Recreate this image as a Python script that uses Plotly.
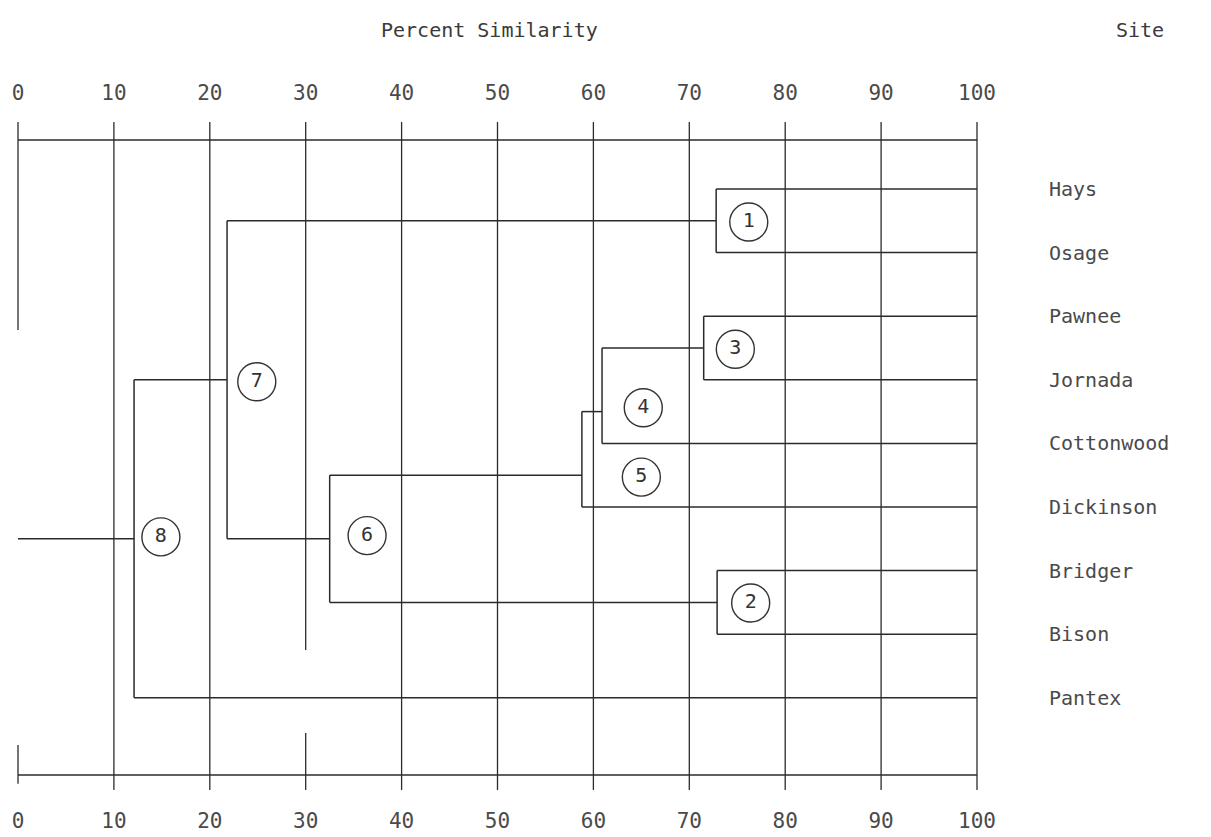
import plotly.graph_objects as go

# ---------------- data ----------------
sites = ["Hays", "Osage", "Pawnee", "Jornada", "Cottonwood",
         "Dickinson", "Bridger", "Bison", "Pantex"]

cluster_ids = [1, 2, 3, 4, 5, 6, 7, 8]
cluster_left = ["Hays", "Bridger", "Pawnee", "#3", "#4", "#5", "#1", "#7"]
cluster_right = ["Osage", "Bison", "Jornada", "Cottonwood", "Dickinson", "#2", "#6", "Pantex"]
cluster_similarity = [72.8, 72.9, 71.5, 60.9, 58.8, 32.5, 21.8, 12.1]
cluster_row = [0.5, 6.5, 2.5, 3.5, 4.5, 5.5, 3.0, 5.5]

tick_values = [0, 10, 20, 30, 40, 50, 60, 70, 80, 90, 100]
tick_labels = ["0", "10", "20", "30", "40", "50", "60", "70", "80", "90", "100"]

# ---------------- layout constants (page pixels) ----------------
OFF = 8  # default page body margin
W, H = 1211 - OFF, 837 - OFF
ROW_PX0, ROW_STEP = 189.0, 63.6
X_PX0, X_STEP = 18.0, 9.59
PAGE_L, PAGE_R, PAGE_T, PAGE_B = 8, 987, 122, 790
PLOT_L, PLOT_R, PLOT_T, PLOT_B = PAGE_L - OFF, PAGE_R - OFF, PAGE_T - OFF, PAGE_B - OFF


def px_to_row(p):
    return (p - ROW_PX0) / ROW_STEP


def px_to_x(p):
    return (p - X_PX0) / X_STEP


LINE = "#2b2b2b"
TEXT = "#4a4a4a"
FONT = "DejaVu Sans Mono"

# label offsets (layout) for circled cluster numbers
label_dx = [3.4, 3.5, 3.3, 4.3, 6.2, 3.9, 3.1, 2.8]
label_dy = [0.02, 0.01, 0.02, -0.06, 0.03, -0.05, 0.03, -0.03]


def node(name):
    if name in sites:
        return 100.0, float(sites.index(name))
    k = int(name[1:]) - 1
    return cluster_similarity[k], cluster_row[k]


fig = go.Figure()

# ---------------- grid / frame ----------------
y_top = px_to_row(PAGE_T)
y_bot = px_to_row(PAGE_B)
gx, gy = [], []
for v in tick_values:
    if v == 0:
        segs = [(y_top, px_to_row(330)), (px_to_row(745), y_bot - 0.1)]
    elif v == 30:
        segs = [(y_top, px_to_row(650)), (px_to_row(733), y_bot)]
    else:
        segs = [(y_top, y_bot)]
    for a, b in segs:
        gx += [v, v, None]
        gy += [a, b, None]
for r in (px_to_row(140), px_to_row(775)):
    gx += [tick_values[0], tick_values[-1], None]
    gy += [r, r, None]
fig.add_trace(go.Scatter(x=gx, y=gy, mode="lines",
                         line=dict(color=LINE, width=1.3),
                         hoverinfo="skip", showlegend=False))

# ---------------- dendrogram ----------------
dx, dy = [], []
for i in range(len(cluster_ids)):
    h = cluster_similarity[i]
    sL, rL = node(cluster_left[i])
    sR, rR = node(cluster_right[i])
    dx += [sL, h, None, sR, h, None, h, h, None]
    dy += [rL, rL, None, rR, rR, None, rL, rR, None]
# root stem
dx += [cluster_similarity[-1], tick_values[0], None]
dy += [cluster_row[-1], cluster_row[-1], None]
fig.add_trace(go.Scatter(x=dx, y=dy, mode="lines",
                         line=dict(color=LINE, width=1.5),
                         hoverinfo="skip", showlegend=False))

# ---------------- circled cluster numbers ----------------
fig.add_trace(go.Scatter(
    x=[cluster_similarity[i] + label_dx[i] for i in range(len(cluster_ids))],
    y=[cluster_row[i] + label_dy[i] for i in range(len(cluster_ids))],
    mode="markers+text",
    text=[str(c) for c in cluster_ids],
    textposition="middle center",
    textfont=dict(family=FONT, size=20, color="#333333"),
    marker=dict(symbol="circle-open", size=38,
                line=dict(color="#333333", width=1.4), color="#333333"),
    hoverinfo="skip", showlegend=False))

# dummy trace to bind secondary axes
fig.add_trace(go.Scatter(x=[None], y=[None], xaxis="x2", yaxis="y2",
                         showlegend=False, hoverinfo="skip"))

x_range = [px_to_x(PAGE_L), px_to_x(PAGE_R)]
y_range = [y_bot, y_top]

axis_font = dict(family=FONT, size=21, color=TEXT)

fig.update_layout(
    width=W, height=H,
    margin=dict(l=PLOT_L, r=W - PLOT_R, t=PLOT_T, b=H - PLOT_B, pad=0),
    paper_bgcolor="white", plot_bgcolor="white",
    xaxis=dict(range=x_range, tickvals=tick_values, ticktext=tick_labels,
               showgrid=False, zeroline=False, showline=False, ticks="",
               side="bottom", tickfont=axis_font, ticklabelstandoff=16),
    xaxis2=dict(range=x_range, tickvals=tick_values, ticktext=tick_labels,
                showgrid=False, zeroline=False, showline=False, ticks="",
                side="top", overlaying="x", tickfont=axis_font,
                ticklabelstandoff=17),
    yaxis=dict(range=y_range, showgrid=False, zeroline=False, showline=False,
               showticklabels=False, ticks=""),
    yaxis2=dict(range=y_range, overlaying="y", side="right",
                tickvals=list(range(len(sites))), ticktext=sites,
                showgrid=False, zeroline=False, showline=False, ticks="",
                tickfont=dict(family=FONT, size=20, color=TEXT),
                ticklabelstandoff=61),
    annotations=[
        dict(text="Percent Similarity", xref="paper", yref="paper",
             x=(489 - PAGE_L) / (PAGE_R - PAGE_L),
             y=(PAGE_B - 30) / (PAGE_B - PAGE_T),
             showarrow=False, xanchor="center", yanchor="middle",
             font=dict(family=FONT, size=20, color="#3a3a3a")),
        dict(text="Site", xref="paper", yref="paper",
             x=(1140 - PAGE_L) / (PAGE_R - PAGE_L),
             y=(PAGE_B - 30) / (PAGE_B - PAGE_T),
             showarrow=False, xanchor="center", yanchor="middle",
             font=dict(family=FONT, size=20, color="#3a3a3a")),
    ],
)

fig.write_html("out.html")
